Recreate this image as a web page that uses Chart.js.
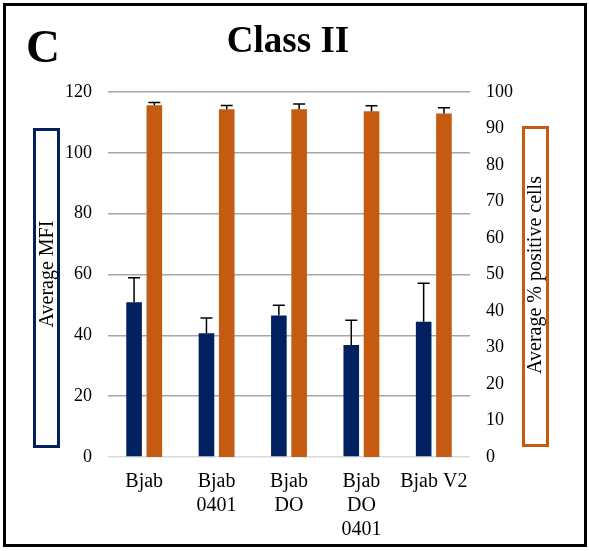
<!DOCTYPE html>
<html>
<head>
<meta charset="utf-8">
<script src="https://cdn.jsdelivr.net/npm/chart.js@4"></script>
<style>
  body { margin: 0; background: #fff; }
  #wrap { width: 589px; height: 551px; }
</style>
</head>
<body>
<div id="wrap"><canvas id="grafico" width="589" height="551"></canvas></div>
<script>
// data
const categorias = [['Bjab'], ['Bjab', '0401'], ['Bjab', 'DO'], ['Bjab', 'DO', '0401'], ['Bjab V2']];
const mfi = [50.9, 40.7, 46.5, 36.8, 44.5];
const mfiErr = [8.0, 5.0, 3.4, 8.2, 12.6];
const positivas = [96.4, 95.3, 95.3, 94.7, 94.1];
const positivasErr = [0.7, 1.0, 1.4, 1.5, 1.6];
const ticksIzq = [0, 20, 40, 60, 80, 100, 120];
const ticksDer = [0, 10, 20, 30, 40, 50, 60, 70, 80, 90, 100];

const AZUL = '#002060';
const NARANJA = '#C55A11';
const FUENTE = "'Liberation Serif', 'Times New Roman', serif";

// error bars (upper only) from the scales
const barrasError = {
    id: 'barrasError',
    afterDatasetsDraw: function (chart) {
        const ctx = chart.ctx;
        const errores = [mfiErr, positivasErr];
        ctx.save();
        ctx.strokeStyle = '#000';
        ctx.lineWidth = 1.5;
        chart.data.datasets.forEach(function (ds, i) {
            const meta = chart.getDatasetMeta(i);
            const escala = chart.scales[ds.yAxisID];
            meta.data.forEach(function (bar, j) {
                const yTop = escala.getPixelForValue(ds.data[j] + errores[i][j]);
                const yVal = escala.getPixelForValue(ds.data[j]);
                ctx.beginPath();
                ctx.moveTo(bar.x, yVal);
                ctx.lineTo(bar.x, yTop);
                ctx.moveTo(bar.x - 6, yTop);
                ctx.lineTo(bar.x + 6, yTop);
                ctx.stroke();
            });
        });
        ctx.restore();
    }
};

// frame, panel letter, title and boxed axis titles
const decoracion = {
    id: 'decoracion',
    beforeDraw: function (chart) {
        const ctx = chart.ctx;
        ctx.save();
        ctx.fillStyle = '#fff';
        ctx.fillRect(0, 0, chart.width, chart.height);
        ctx.restore();
    },
    afterDraw: function (chart) {
        const ctx = chart.ctx;
        ctx.save();
        ctx.strokeStyle = '#000';
        ctx.lineWidth = 3;
        ctx.strokeRect(4.5, 4.5, 581, 541);

        ctx.fillStyle = '#000';
        ctx.textAlign = 'left';
        ctx.textBaseline = 'alphabetic';
        ctx.font = 'bold 47px ' + FUENTE;
        ctx.fillText('C', 26, 62);

        ctx.textAlign = 'center';
        ctx.font = 'bold 37px ' + FUENTE;
        ctx.fillText('Class II', 288, 52);

        ctx.lineWidth = 3;
        ctx.strokeStyle = AZUL;
        ctx.strokeRect(34.5, 129.5, 24, 317);
        ctx.strokeStyle = NARANJA;
        ctx.strokeRect(523.5, 127.5, 24, 318);

        ctx.font = '20px ' + FUENTE;
        ctx.fillStyle = '#000';
        ctx.translate(53, 274);
        ctx.rotate(-Math.PI / 2);
        ctx.fillText('Average MFI', 0, 0);
        ctx.rotate(Math.PI / 2);
        ctx.translate(-53, -274);

        ctx.translate(541, 275);
        ctx.rotate(-Math.PI / 2);
        ctx.fillText('Average % positive cells', 0, 0);
        ctx.restore();
    }
};

new Chart(document.getElementById('grafico'), {
    type: 'bar',
    data: {
        labels: categorias,
        datasets: [
            {
                label: 'Average MFI',
                data: mfi,
                backgroundColor: AZUL,
                yAxisID: 'y',
                categoryPercentage: 0.56,
                barPercentage: 0.77
            },
            {
                label: 'Average % positive cells',
                data: positivas,
                backgroundColor: NARANJA,
                yAxisID: 'y2',
                categoryPercentage: 0.56,
                barPercentage: 0.77
            }
        ]
    },
    options: {
        responsive: false,
        animation: false,
        layout: { padding: { top: 92, left: 0, right: 0, bottom: 0 } },
        plugins: {
            legend: { display: false },
            tooltip: { enabled: false }
        },
        scales: {
            x: {
                grid: { display: false, drawTicks: false },
                border: { display: false },
                ticks: {
                    color: '#000',
                    padding: 13,
                    maxRotation: 0,
                    autoSkip: false,
                    font: { family: FUENTE, size: 20, lineHeight: 1.2 }
                },
                afterFit: function (s) { s.height = 94; }
            },
            y: {
                position: 'left',
                min: 0,
                max: 120,
                afterBuildTicks: function (s) { s.ticks = ticksIzq.map(function (v) { return { value: v }; }); },
                grid: {
                    drawTicks: false,
                    lineWidth: 1.5,
                    color: function (c) { return c.tick && c.tick.value === 0 ? '#D9D9D9' : '#A6A6A6'; }
                },
                border: { display: false },
                ticks: {
                    color: '#000',
                    padding: 16,
                    font: { family: FUENTE, size: 18 }
                },
                afterFit: function (s) { s.width = 108; }
            },
            y2: {
                position: 'right',
                min: 0,
                max: 100,
                afterBuildTicks: function (s) { s.ticks = ticksDer.map(function (v) { return { value: v }; }); },
                grid: { display: false, drawTicks: false },
                border: { display: false },
                ticks: {
                    color: '#000',
                    padding: 16,
                    font: { family: FUENTE, size: 18 }
                },
                afterFit: function (s) { s.width = 119; }
            }
        }
    },
    plugins: [decoracion, barrasError]
});
</script>
</body>
</html>
